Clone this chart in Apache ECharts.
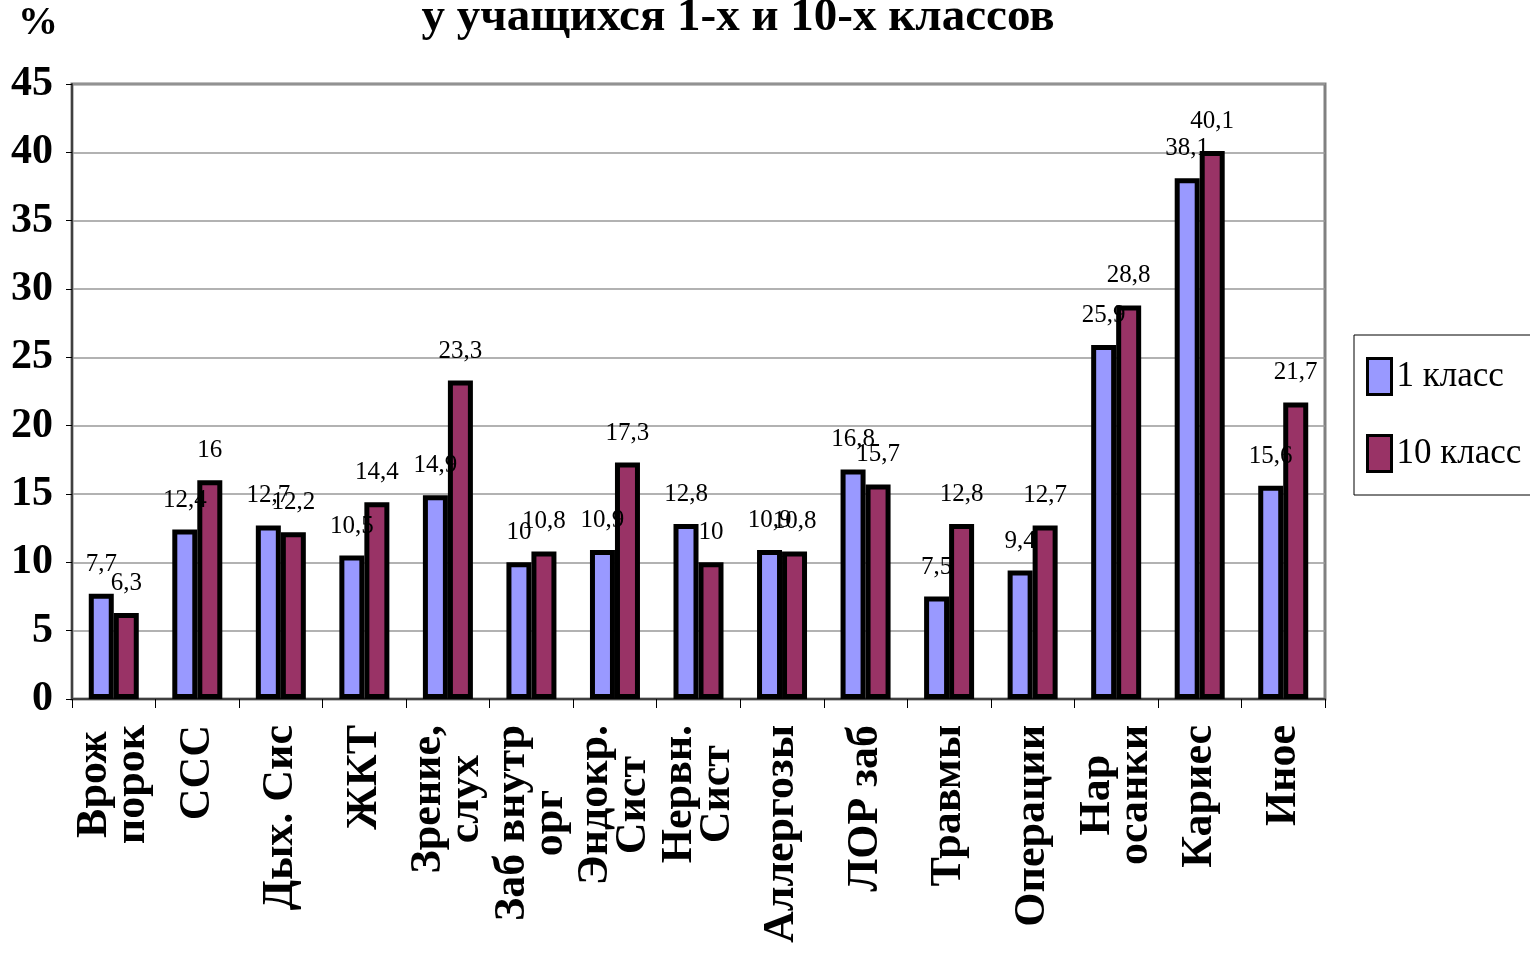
<!DOCTYPE html>
<html>
<head>
<meta charset="utf-8">
<script src="https://cdn.jsdelivr.net/npm/echarts@6/dist/echarts.min.js"></script>
<style>
  html, body { margin: 0; padding: 0; background: #fff; }
  #main { width: 1530px; height: 957px; }
</style>
</head>
<body>
<div id="main"></div>
<script>
// категории заболеваний
const categories = ['Врож\nпорок', 'ССС', 'Дых. Сис', 'ЖКТ', 'Зрение,\nслух', 'Заб внутр\nорг',
  'Эндокр.\nСист', 'Нервн.\nСист', 'Аллергозы', 'ЛОР заб', 'Травмы', 'Операции',
  'Нар\nосанки', 'Кариес', 'Иное'];
const class1 = [7.7, 12.4, 12.7, 10.5, 14.9, 10, 10.9, 12.8, 10.9, 16.8, 7.5, 9.4, 25.9, 38.1, 15.6];
const class10 = [6.3, 16, 12.2, 14.4, 23.3, 10.8, 17.3, 10, 10.8, 15.7, 12.8, 12.7, 28.8, 40.1, 21.7];
const seriesNames = ['1 класс', '10 класс'];
const yTicks = [0, 45, 5]; // min, max, interval

const font = 'Liberation Serif';
let chart = echarts.init(document.getElementById('main'));

function makeSeries(name, data, color) {
  return {
    name: name,
    type: 'bar',
    barWidth: 25,
    barGap: '0%',
    itemStyle: {
      color: color,
      borderColor: '#000',
      borderWidth: 5
    },
    label: {
      show: true,
      position: 'top',
      distance: 17,
      color: '#000',
      fontFamily: font,
      fontSize: 25,
      formatter(params) {
        return String(params.value).replace('.', ',');
      }
    },
    data: data
  };
}

let option = {
  animation: false,
  backgroundColor: '#fff',
  title: [{
    text: '%',
    left: 18,
    top: 4,
    padding: 0,
    textStyle: { fontFamily: font, fontWeight: 'bold', fontSize: 40, color: '#000' }
  }, {
    text: 'у учащихся 1-х и 10-х классов',
    left: 738,
    textAlign: 'center',
    top: -6,
    padding: 0,
    textStyle: { fontFamily: font, fontWeight: 'bold', fontSize: 47, color: '#000' }
  }],
  legend: {
    orient: 'vertical',
    left: 1354,
    top: 335,
    itemWidth: 24,
    itemHeight: 36,
    itemGap: 38,
    icon: 'rect',
    padding: [22, 40, 22, 12],
    borderColor: '#000',
    borderWidth: 1,
    itemStyle: { borderColor: '#000', borderWidth: 3 },
    textStyle: { fontFamily: font, fontSize: 35, color: '#000' },
    data: seriesNames
  },
  grid: {
    left: 72,
    right: 205,
    top: 84,
    bottom: 258,
    show: true,
    borderColor: '#808080',
    borderWidth: 3,
    outerBoundsMode: 'none'
  },
  xAxis: {
    type: 'category',
    data: categories,
    axisLine: { lineStyle: { color: '#404040', width: 2 } },
    axisTick: { show: true, length: 9, lineStyle: { color: '#000', width: 1 } },
    axisLabel: {
      interval: 0,
      rotate: 90,
      margin: 26,
      fontFamily: font,
      fontWeight: 'bold',
      fontSize: 44,
      lineHeight: 38,
      color: '#000',
      // строки подписи центрируются друг относительно друга
      formatter(value) {
        return value.split('\n').map(s => '{c|' + s + '}').join('\n');
      },
      rich: {
        c: {
          align: 'center',
          fontFamily: font,
          fontWeight: 'bold',
          fontSize: 44,
          lineHeight: 38,
          color: '#000'
        }
      }
    }
  },
  yAxis: {
    type: 'value',
    min: yTicks[0],
    max: yTicks[1],
    interval: yTicks[2],
    axisLine: { show: true, lineStyle: { color: '#404040', width: 2 } },
    axisTick: { show: true, length: 6, lineStyle: { color: '#000', width: 1 } },
    axisLabel: {
      margin: 19,
      fontFamily: font,
      fontWeight: 'bold',
      fontSize: 42,
      color: '#000'
    },
    splitLine: { lineStyle: { color: '#999', width: 1.5 } }
  },
  series: [
    makeSeries(seriesNames[0], class1, '#9999FF'),
    makeSeries(seriesNames[1], class10, '#993366')
  ]
};
chart.setOption(option);
</script>
</body>
</html>
